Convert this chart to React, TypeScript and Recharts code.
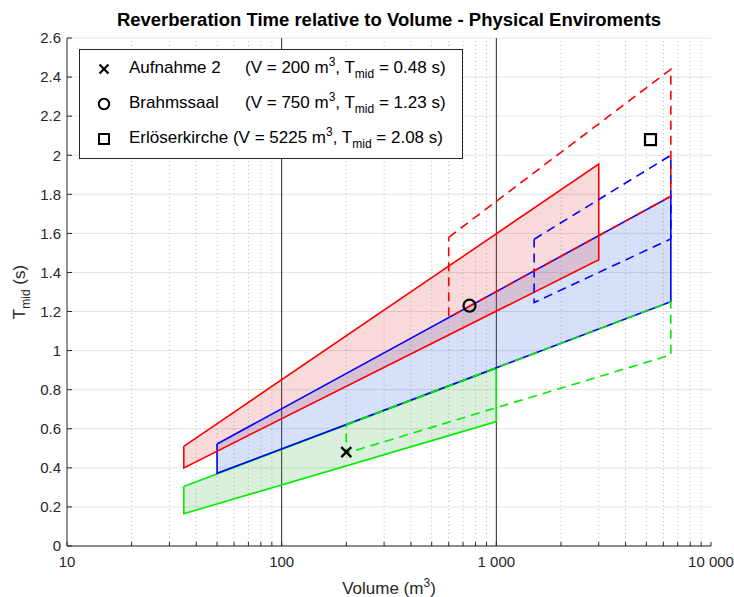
import React from "react";
import { ComposedChart, Scatter, XAxis, YAxis, CartesianGrid, ReferenceLine } from "recharts";

const FONT = '"Liberation Sans", Arial, Helvetica, sans-serif';

// axis ticks
const xMajor = [10, 100, 1000, 10000];
const xMinor = [20, 30, 40, 50, 60, 70, 80, 90, 200, 300, 400, 500, 600, 700, 800, 900, 2000, 3000, 4000, 5000, 6000, 7000, 8000, 9000];
const yTicks = [0, 0.2, 0.4, 0.6, 0.8, 1, 1.2, 1.4, 1.6, 1.8, 2, 2.2, 2.4, 2.6];

// tolerance ranges, corners as (volume m3, T_mid s)
const redV = [35, 3000, 3000, 35, 35];
const redT = [0.51, 1.955, 1.465, 0.4, 0.51];
const blueV = [50, 6500, 6500, 50, 50];
const blueT = [0.522, 1.79, 1.25, 0.372, 0.522];
const greenV = [35, 1000, 1000, 35, 35];
const greenT = [0.305, 0.91, 0.637, 0.165, 0.305];

// extended ranges (dashed)
const redDashV = [600, 6500, 6500, 600, 600];
const redDashT = [1.58, 2.44, 1.79, 1.169, 1.58];
const blueDashV = [1500, 6500, 6500, 1500, 1500];
const blueDashT = [1.57, 2.0, 1.572, 1.246, 1.57];
const greenDashV = [200, 6500, 6500, 200, 200];
const greenDashT = [0.621, 1.25, 0.978, 0.475, 0.621];

// measured rooms
const roomNames = ["Aufnahme 2", "Brahmssaal", "Erlöserkirche"];
const roomV = [200, 750, 5225];
const roomT = [0.48, 1.23, 2.08];

const toPts = (v: number[], t: number[]) => v.map((x, i) => ({ v: x, t: t[i] }));

const solid = [
  { pts: toPts(greenV, greenT), c: "#00ee00", fill: "#33aa44", op: 0.18 },
  { pts: toPts(blueV, blueT), c: "#0000ff", fill: "#3366dd", op: 0.2 },
  { pts: toPts(redV, redT), c: "#ff0000", fill: "#e03030", op: 0.18 },
];
const dashed = [
  { pts: toPts(greenDashV, greenDashT), c: "#00ee00" },
  { pts: toPts(blueDashV, blueDashT), c: "#0000ff" },
  { pts: toPts(redDashV, redDashT), c: "#ff0000" },
];

const noDot = () => <g />;

const Cross = (p: any) => (
  <g stroke="#000" strokeWidth={2.4}>
    <line x1={p.cx - 5} y1={p.cy - 5} x2={p.cx + 5} y2={p.cy + 5} />
    <line x1={p.cx - 5} y1={p.cy + 5} x2={p.cx + 5} y2={p.cy - 5} />
  </g>
);
const Ring = (p: any) => <circle cx={p.cx} cy={p.cy} r={6} fill="none" stroke="#000" strokeWidth={2.2} />;
const Box = (p: any) => (
  <rect x={p.cx - 5.5} y={p.cy - 5.5} width={11} height={11} fill="none" stroke="#000" strokeWidth={2.2} />
);
const shapes = [Cross, Ring, Box];

const fmtX = (v: number) => (xMajor.includes(v) ? String(v).replace(/\B(?=(\d{3})+(?!\d))/g, " ") : "");

const sup = { fontSize: 12, verticalAlign: 7, lineHeight: 0 } as const;
const sub = { fontSize: 12, verticalAlign: -5, lineHeight: 0 } as const;

const LegendMark = ({ i }: { i: number }) => (
  <svg width={14} height={14} style={{ position: "absolute", left: 97, top: -7 }}>
    {i === 0 && (
      <g stroke="#000" strokeWidth={2.2}>
        <line x1={2.5} y1={2.5} x2={11.5} y2={11.5} />
        <line x1={2.5} y1={11.5} x2={11.5} y2={2.5} />
      </g>
    )}
    {i === 1 && <circle cx={7} cy={7} r={5.2} fill="none" stroke="#000" strokeWidth={2} />}
    {i === 2 && <rect x={2} y={2} width={10} height={10} fill="none" stroke="#000" strokeWidth={2} />}
  </svg>
);

export default function App() {
  const all = [...xMinor, ...xMajor].sort((a, b) => a - b);
  return (
    <div style={{ position: "absolute", left: 0, top: 0, width: 734, height: 597, background: "#fff", fontFamily: FONT }}>
      <ComposedChart width={734} height={597} margin={{ top: 38, right: 23, bottom: 0, left: 0 }}>
        <CartesianGrid vertical={false} stroke="#e3e3e3" strokeWidth={1} />
        <XAxis
          dataKey="v"
          type="number"
          scale="log"
          domain={[10, 10000]}
          allowDataOverflow
          ticks={all}
          interval={0}
          tickFormatter={fmtX}
          height={51}
          tickSize={-4}
          tickMargin={14}
          stroke="#262626"
          tick={{ fill: "#262626", fontSize: 15, fontFamily: FONT }}
        />
        <XAxis
          xAxisId="top"
          orientation="top"
          dataKey="v"
          type="number"
          scale="log"
          domain={[10, 10000]}
          allowDataOverflow
          ticks={all}
          interval={0}
          tickFormatter={() => ""}
          height={0}
          tickSize={-4}
          stroke="#262626"
        />
        <YAxis
          dataKey="t"
          type="number"
          domain={[0, 2.6]}
          ticks={yTicks}
          interval={0}
          width={67}
          tickSize={-5}
          tickMargin={11}
          stroke="#262626"
          tick={{ fill: "#262626", fontSize: 15, fontFamily: FONT }}
        />
        <YAxis
          yAxisId="r"
          orientation="right"
          dataKey="t"
          type="number"
          domain={[0, 2.6]}
          ticks={yTicks}
          interval={0}
          width={0}
          tickSize={-5}
          tickFormatter={() => ""}
          stroke="#262626"
        />
        {xMinor.map((x) => (
          <ReferenceLine key={"m" + x} x={x} stroke="#bcbcbc" strokeDasharray="1 3" />
        ))}
        <ReferenceLine x={100} stroke="#262626" />
        <ReferenceLine x={1000} stroke="#262626" />

        {solid.map((s, i) => (
          <Scatter
            key={"f" + i}
            data={s.pts}
            dataKey="t"
            shape={noDot}
            line={{ stroke: "none", fill: s.fill, fillOpacity: s.op }}
            isAnimationActive={false}
          />
        ))}
        {solid.map((s, i) => (
          <Scatter
            key={"s" + i}
            data={s.pts}
            dataKey="t"
            shape={noDot}
            line={{ stroke: s.c, strokeWidth: 1.6, fill: "none" }}
            isAnimationActive={false}
          />
        ))}
        {dashed.map((s, i) => (
          <Scatter
            key={"d" + i}
            data={s.pts}
            dataKey="t"
            shape={noDot}
            line={{ stroke: s.c, strokeWidth: 1.6, fill: "none", strokeDasharray: "9 6" }}
            isAnimationActive={false}
          />
        ))}
        {roomV.map((v, i) => (
          <Scatter key={"r" + i} data={[{ v, t: roomT[i] }]} dataKey="t" shape={shapes[i]} isAnimationActive={false} />
        ))}
      </ComposedChart>

      <div
        style={{
          position: "absolute",
          left: 67,
          width: 644,
          top: 9,
          textAlign: "center",
          fontSize: 18.5,
          fontWeight: "bold",
          color: "#000",
          whiteSpace: "nowrap",
        }}
      >
        Reverberation Time relative to Volume - Physical Enviroments
      </div>

      <div style={{ position: "absolute", left: 67, width: 644, top: 579, textAlign: "center", fontSize: 17, color: "#262626" }}>
        Volume (m<sup style={sup}>3</sup>)
      </div>

      <div
        style={{
          position: "absolute",
          left: 20,
          top: 292,
          transform: "translate(-50%, -50%) rotate(-90deg)",
          fontSize: 17,
          color: "#262626",
          whiteSpace: "nowrap",
        }}
      >
        T<sub style={sub}>mid</sub> (s)
      </div>

      <div
        style={{
          position: "absolute",
          left: 79,
          top: 49,
          width: 384,
          height: 110,
          background: "#fff",
          border: "1px solid #262626",
          boxSizing: "border-box",
        }}
      />
      {roomNames.map((n, i) => (
        <div key={n} style={{ position: "absolute", left: 0, top: 69 + i * 35, fontSize: 17, color: "#000", whiteSpace: "pre" }}>
          <LegendMark i={i} />
          <span style={{ position: "absolute", left: 129, top: -11, whiteSpace: "pre" }}>
            {i === 2 ? n + " " : n}
            {i === 2 && (
              <>
                (V = {roomV[i]} m<sup style={sup}>3</sup>, T<sub style={sub}>mid</sub> = {roomT[i].toFixed(2)} s)
              </>
            )}
          </span>
          {i < 2 && (
            <span style={{ position: "absolute", left: 245, top: -11, whiteSpace: "pre" }}>
              (V = {roomV[i]} m<sup style={sup}>3</sup>, T<sub style={sub}>mid</sub> = {roomT[i].toFixed(2)} s)
            </span>
          )}
        </div>
      ))}
    </div>
  );
}
